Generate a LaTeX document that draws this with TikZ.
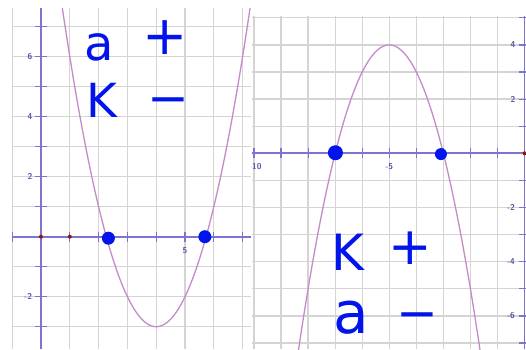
\documentclass[tikz,border=0pt]{standalone}
\usepackage{fontspec}
\newfontfamily\handfont{DejaVu Sans}
\definecolor{gridc}{RGB}{212,212,212}
\definecolor{axisc}{RGB}{125,115,210}
\definecolor{curvec}{RGB}{195,140,200}
\definecolor{inkc}{RGB}{0,20,235}
\definecolor{labc}{RGB}{90,80,170}
\definecolor{redc}{RGB}{150,20,20}
\tikzset{
  gridline/.style={draw=gridc, line width=1.3pt},
  axisline/.style={draw=axisc, line width=1.8pt},
  tickline/.style={draw=axisc, line width=1.2pt},
  curveline/.style={draw=curvec, line width=1.3pt},
  ticklab/.style={text=labc, font=\sffamily\bfseries\fontsize{8.5}{9}\selectfont, inner sep=0pt},
  ink/.style={text=inkc, inner sep=0pt},
  bluedot/.style={fill=inkc, draw=none},
  reddot/.style={fill=redc, draw=none}
}
\begin{document}
\begin{tikzpicture}[x=1pt,y=1pt]
\useasboundingbox (0,0) rectangle (526,349);
\fill[white] (0,0) rectangle (526,349);
% ---------- left panel ----------
\begin{scope}[shift={(41,112.3)}, x=28.8pt, y=30pt]
  \begin{scope}
    \clip (-1.01,-3.75) rectangle (7.33,7.62);
    \foreach \i in {-1,...,7} \draw[gridline] (\i,-3.75) -- (\i,7.62);
    \foreach \j in {-3,...,7} \draw[gridline] (-1.01,\j) -- (7.33,\j);
    \draw[axisline] (-1.01,0) -- (7.33,0);
    \draw[axisline] (0,-3.75) -- (0,7.62);
    \foreach \i in {-1,1,2,...,7} \draw[tickline] (\i,-0.17) -- (\i,0.17);
    \foreach \j in {-3,...,7} \draw[tickline] (-0.2,\j) -- (0.2,\j);
    \draw[curveline] plot[domain=0.7:7.3, samples=80, smooth] (\x,{(\x-4)^2-3});
  \end{scope}
  \node[ticklab] (l6) at (-0.38,6) {6};
  \node[ticklab] (l4) at (-0.38,4) {4};
  \node[ticklab] (l2) at (-0.38,2) {2};
  \node[ticklab] (lm2) at (-0.45,-2) {-2};
  \node[ticklab] (l5) at (5,-0.45) {5};
  \fill[reddot] (0,0) circle[radius=2pt];
  \fill[reddot] (1,0) circle[radius=2pt];
  \fill[bluedot] (2.34,-0.05) circle[radius=6.5pt];
  \fill[bluedot] (5.69,0) circle[radius=6.5pt];
\end{scope}
% ---------- right panel ----------
\fill[white] (251,0) rectangle (526,349);
\begin{scope}[shift={(524.5,195.7)}, x=27.05pt, y=27.1pt]
  \begin{scope}
    \clip (-10.09,-7.23) rectangle (0.1,5.08);
    \foreach \i in {-10,...,-1} \draw[gridline] (\i,-7.23) -- (\i,5.08);
    \foreach \j in {-7,...,5} \draw[gridline] (-10.09,\j) -- (0.1,\j);
    \draw[axisline] (-10.09,0) -- (0.1,0);
    \draw[axisline] (0,-7.23) -- (0,5.08);
    \foreach \i in {-10,...,-1} \draw[tickline] (\i,-0.18) -- (\i,0.18);
    \foreach \j in {-7,...,-1,1,2,...,5} \draw[tickline] (-0.22,\j) -- (0.1,\j);
    \draw[curveline] plot[domain=-8.4:-1.6, samples=80, smooth] (\x,{-(\x+5)^2+4});
    \node[ticklab] (rm10) at (-9.95,-0.5) {-10};
    \fill[reddot] (0,0) circle[radius=2pt];
  \end{scope}
  \node[ticklab] (r4) at (-0.43,4) {4};
  \node[ticklab] (r2) at (-0.43,2) {2};
  \node[ticklab] (rm2) at (-0.5,-2) {-2};
  \node[ticklab] (rm4) at (-0.5,-4) {-4};
  \node[ticklab] (rm6) at (-0.5,-6) {-6};
  \node[ticklab] (rm5) at (-5,-0.5) {-5};
  \fill[bluedot] (-6.99,0.02) circle[radius=7.5pt];
  \fill[bluedot] (-3.09,-0.03) circle[radius=6pt];
\end{scope}
% ---------- handwritten notes ----------
\node[ink, font=\handfont\fontsize{48}{48}\selectfont, anchor=base] (ta) at (99,289) {a};
\node[ink, font=\handfont\fontsize{54}{54}\selectfont, anchor=center] (tp) at (165,311) {+};
\node[ink, font=\handfont\fontsize{47}{47}\selectfont, anchor=base] (tk) at (102,232) {K};
\node[ink, font=\handfont\fontsize{50}{50}\selectfont, anchor=center] (tm) at (168,242) {−};
\node[ink, font=\handfont\fontsize{50}{50}\selectfont, anchor=base] (rk) at (348,79) {K};
\node[ink, font=\handfont\fontsize{52}{52}\selectfont, anchor=center] (rp) at (410,101) {+};
\node[ink, font=\handfont\fontsize{58}{58}\selectfont, anchor=base] (ra) at (351,16) {a};
\node[ink, font=\handfont\fontsize{50}{50}\selectfont, anchor=center] (rm) at (417,27) {−};
\end{tikzpicture}
\end{document}
